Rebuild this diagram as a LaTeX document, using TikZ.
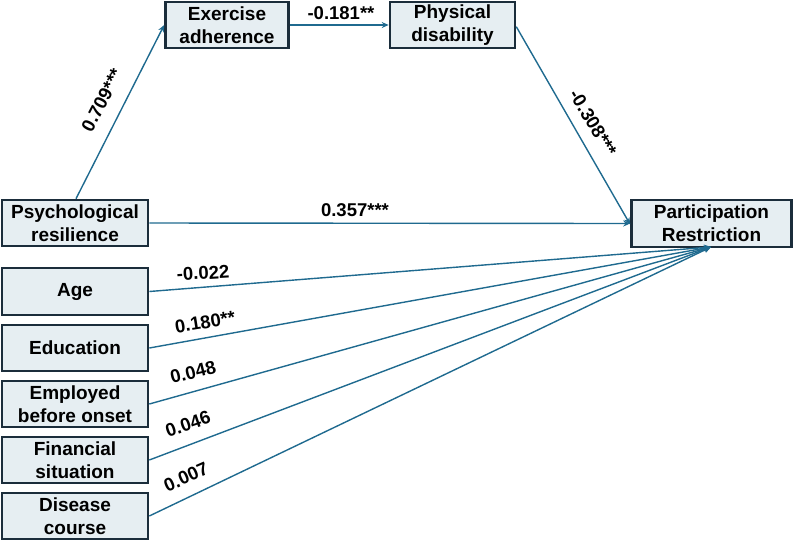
\documentclass[tikz,border=0pt]{standalone}
\usepackage{fontspec}
\setmainfont{Liberation Sans}
\usetikzlibrary{arrows.meta}
\definecolor{boxfill}{HTML}{E6EEF2}
\definecolor{boxline}{HTML}{1B2D3B}
\definecolor{arrowc}{HTML}{1F6A8F}
\begin{document}
\begin{tikzpicture}[x=1pt,y=-1pt,
  vbox/.style={draw=boxline, line width=2.6pt, fill=boxfill, inner sep=0pt,
    font=\fontsize{19}{23}\selectfont\bfseries, align=center},
  path/.style={draw=arrowc, line width=1.4pt, -{Stealth[length=7pt,width=6pt]}},
  coef/.style={font=\fontsize{18.5}{22}\selectfont\bfseries, inner sep=0pt}]
\useasboundingbox (0,0) rectangle (794,542);
% boxes
\node[vbox, minimum width=123pt, minimum height=46pt] (ea) at (227,25) {Exercise\\adherence};
\node[vbox, minimum width=125pt, minimum height=46pt] (pd) at (452.5,25) {Physical\\disability};
\node[vbox, minimum width=146pt, minimum height=46pt] (pr) at (75,223) {Psychological\\resilience};
\node[vbox, minimum width=160pt, minimum height=47pt] (part) at (711.5,223.5) {Participation\\Restriction};
\node[vbox, minimum width=146pt, minimum height=47pt] (age) at (75,291.5) {Age};
\node[vbox, minimum width=146pt, minimum height=46pt] (edu) at (75,348) {Education};
\node[vbox, minimum width=146pt, minimum height=46pt] (emp) at (75,404) {Employed\\before onset};
\node[vbox, minimum width=146pt, minimum height=46pt] (fin) at (75,460) {Financial\\situation};
\node[vbox, minimum width=146pt, minimum height=46pt] (dis) at (75,516) {Disease\\course};
% connectors
\coordinate (hub) at (711,247);
\draw[path] (pr.north) ++(1,0) coordinate (prtop) -- (ea.west);
\draw[path] (ea.east) -- (pd.west);
\draw[path] (pd.north east) ++(0,26) coordinate (pdout) -- ([yshift=-1pt]part.west);
\draw[path] (pr.east) -- (part.west);
\draw[path] (age.east) -- (hub);
\draw[path] (edu.east) -- (hub);
\draw[path] (emp.east) -- (hub);
\draw[path] (fin.east) -- (hub);
\draw[path] (dis.east) -- (hub);
% coefficients
\node[coef, rotate=62.5] (c1) at (102,100) {0.709***};
\node[coef] (c2) at (341,13) {-0.181**};
\node[coef, rotate=-59] (c3) at (593,123) {-0.308***};
\node[coef] (c4) at (355,210) {0.357***};
\node[coef, rotate=3.5] (c5) at (203,273) {-0.022};
\node[coef, rotate=9] (c6) at (205,322) {0.180**};
\node[coef, rotate=14] (c7) at (193,372) {0.048};
\node[coef, rotate=19] (c8) at (188,424) {0.046};
\node[coef, rotate=24] (c9) at (186,477) {0.007};
\end{tikzpicture}
\end{document}
